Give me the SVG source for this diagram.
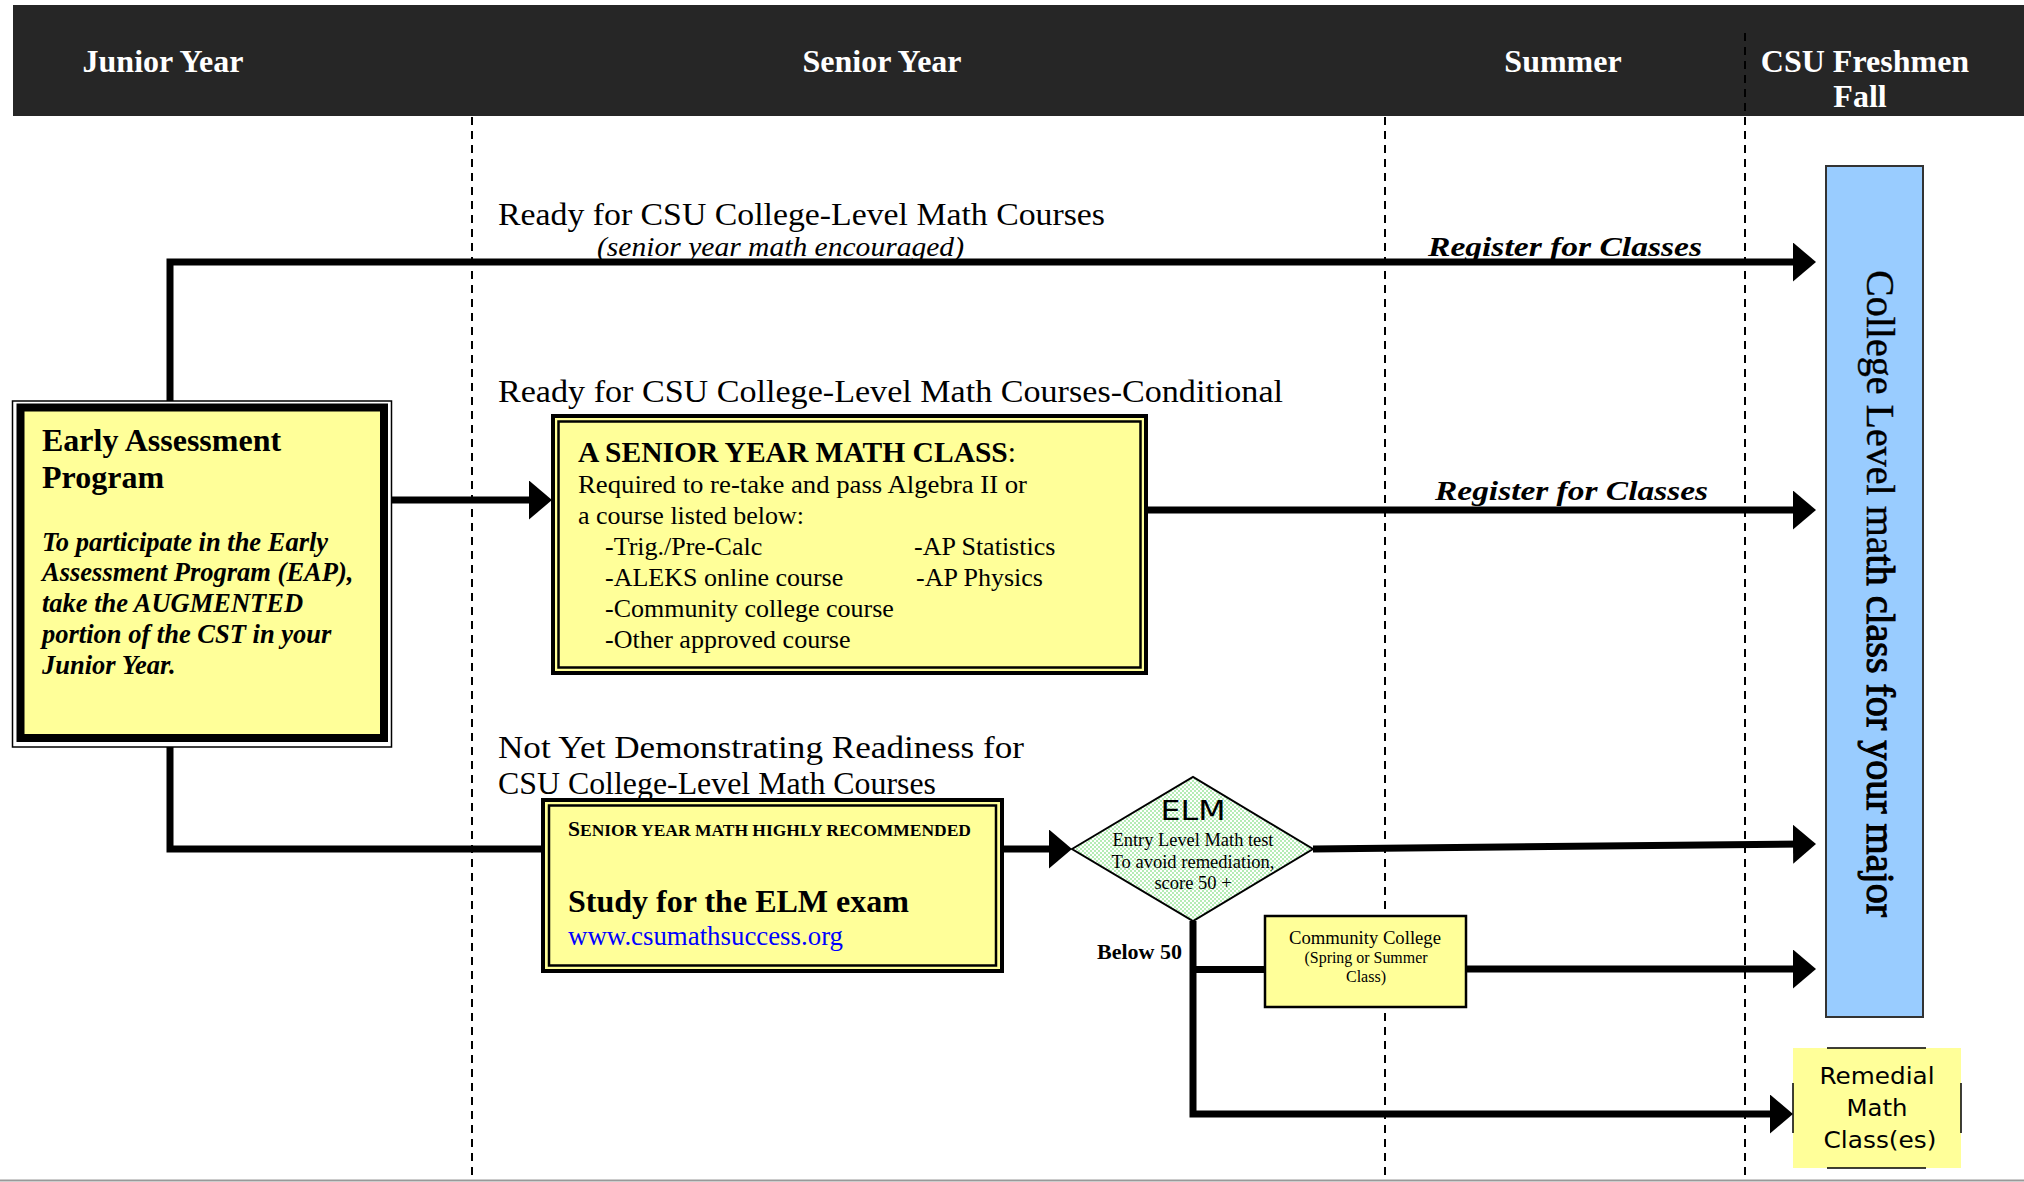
<svg xmlns="http://www.w3.org/2000/svg" width="2024" height="1182" viewBox="0 0 2024 1182">
<defs>
<style>
.hdr{font-family:"Liberation Serif",serif;font-weight:bold;font-size:32px;fill:#fff;text-anchor:middle}
.big{font-family:"Liberation Serif",serif;font-size:32px;fill:#000}
.ser{font-family:"Liberation Serif",serif;fill:#000}
.sans{font-family:"DejaVu Sans","Liberation Sans",sans-serif;fill:#000}
.conn{fill:none;stroke:#000;stroke-width:7;stroke-linejoin:miter}
.dash{stroke:#000;stroke-width:2;stroke-dasharray:8 6;fill:none}
.yel{fill:#ffff99}
.reg{font-family:"Liberation Serif",serif;font-weight:bold;font-style:italic;font-size:28px;fill:#000}
</style>
<marker id="ah" markerUnits="userSpaceOnUse" markerWidth="24" markerHeight="40" refX="13" refY="19.5" orient="auto">
<path d="M0,0 L23,19.5 L0,39 Z" fill="#000"/>
</marker>
<pattern id="chk" width="4" height="4" patternUnits="userSpaceOnUse">
<rect width="4" height="4" fill="#ffffff"/>
<rect width="2" height="2" fill="#b5ecb5"/>
<rect x="2" y="2" width="2" height="2" fill="#b5ecb5"/>
</pattern>
</defs>
<rect width="2024" height="1182" fill="#fff"/>
<g id="header">
<rect x="13" y="5" width="2011" height="111" fill="#262626"/>
<text class="hdr" x="163" y="72">Junior Year</text>
<text class="hdr" x="882" y="72">Senior Year</text>
<text class="hdr" x="1563" y="72">Summer</text>
<text class="hdr" x="1865" y="72">CSU Freshmen</text>
<text class="hdr" x="1860" y="107">Fall</text>
</g>
<g id="dividers">
<line class="dash" x1="472" y1="117" x2="472" y2="1180"/>
<line class="dash" x1="1385" y1="117" x2="1385" y2="1180"/>
<line class="dash" x1="1745" y1="33" x2="1745" y2="1180"/>
<line x1="0" y1="1180.5" x2="2024" y2="1180.5" stroke="#999" stroke-width="2"/>
</g>
<g id="labels">
<text class="big" x="498" y="225" textLength="607" lengthAdjust="spacingAndGlyphs">Ready for CSU College-Level Math Courses</text>
<text class="ser" x="597" y="256" font-size="27" font-style="italic" textLength="367" lengthAdjust="spacingAndGlyphs">(senior year math encouraged)</text>
<text class="big" x="498" y="402" textLength="785" lengthAdjust="spacingAndGlyphs">Ready for CSU College-Level Math Courses-Conditional</text>
<text class="big" x="498" y="758" textLength="526" lengthAdjust="spacingAndGlyphs">Not Yet Demonstrating Readiness for</text>
<text class="big" x="498" y="794" textLength="438" lengthAdjust="spacingAndGlyphs">CSU College-Level Math Courses</text>
<text class="reg" x="1428" y="256" textLength="274" lengthAdjust="spacingAndGlyphs">Register for Classes</text>
<text class="reg" x="1435" y="500" textLength="273" lengthAdjust="spacingAndGlyphs">Register for Classes</text>
<text class="ser" x="1097" y="959" font-size="22" font-weight="bold" textLength="85" lengthAdjust="spacingAndGlyphs">Below 50</text>
</g>
<g id="connectors">
<path class="conn" d="M170,401 V262 H1806" marker-end="url(#ah)"/>
<path class="conn" d="M391,500 H542" marker-end="url(#ah)"/>
<path class="conn" d="M1148,510 H1806" marker-end="url(#ah)"/>
<path class="conn" d="M170,747 V849 H541"/>
<path class="conn" d="M1004,849 H1062" marker-end="url(#ah)"/>
<path class="conn" d="M1313,849 L1806,844" marker-end="url(#ah)"/>
<path class="conn" d="M1193,921 V1114 H1783" marker-end="url(#ah)"/>
<path class="conn" d="M1193,969.5 H1265"/>
<path class="conn" d="M1467,969 H1806" marker-end="url(#ah)"/>
</g>
<g id="eap">
<rect x="12.5" y="401" width="379" height="346" fill="#fff" stroke="#000" stroke-width="1.5"/>
<rect class="yel" x="20.5" y="407.5" width="363.5" height="330.5" stroke="#000" stroke-width="8"/>
<text class="ser" x="42" y="451" font-size="32" font-weight="bold">Early Assessment</text>
<text class="ser" x="42" y="488" font-size="32" font-weight="bold">Program</text>
<g font-family="Liberation Serif, serif" font-weight="bold" font-style="italic" font-size="26.5">
<text x="42" y="551">To participate in the Early</text>
<text x="42" y="581">Assessment Program (EAP),</text>
<text x="42" y="612">take the AUGMENTED</text>
<text x="42" y="643">portion of the CST in your</text>
<text x="42" y="674">Junior Year.</text>
</g>
</g>
<g id="conditional">
<rect class="yel" x="553" y="416" width="593" height="257" stroke="#000" stroke-width="4"/>
<rect x="558.5" y="421.5" width="582" height="246" fill="none" stroke="#000" stroke-width="2.5"/>
<text class="ser" x="578" y="462" font-size="29" textLength="438" lengthAdjust="spacingAndGlyphs"><tspan font-weight="bold">A SENIOR YEAR MATH CLASS</tspan>:</text>
<g font-family="Liberation Serif, serif" font-size="26">
<text x="578" y="493" textLength="449" lengthAdjust="spacingAndGlyphs">Required to re-take and pass Algebra II or</text>
<text x="578" y="524">a course listed below:</text>
<text x="605" y="555">-Trig./Pre-Calc</text>
<text x="914" y="555">-AP Statistics</text>
<text x="605" y="586">-ALEKS online course</text>
<text x="916" y="586">-AP Physics</text>
<text x="605" y="617">-Community college course</text>
<text x="605" y="648">-Other approved course</text>
</g>
</g>
<g id="senior-box">
<rect class="yel" x="543" y="800" width="459" height="171" stroke="#000" stroke-width="4"/>
<rect x="549" y="805.5" width="447" height="160" fill="none" stroke="#000" stroke-width="2.5"/>
<text class="ser" x="568" y="836" font-weight="bold" textLength="403" lengthAdjust="spacingAndGlyphs"><tspan font-size="21">S</tspan><tspan font-size="17">ENIOR YEAR MATH HIGHLY RECOMMENDED</tspan></text>
<text class="ser" x="568" y="912" font-size="32" font-weight="bold" textLength="341" lengthAdjust="spacingAndGlyphs">Study for the ELM exam</text>
<text x="568" y="945" font-family="Liberation Serif, serif" font-size="26.5" fill="#0000ff" textLength="275" lengthAdjust="spacingAndGlyphs">www.csumathsuccess.org</text>
</g>
<g id="elm">
<polygon points="1072,849 1193,777 1313,849 1193,921" fill="url(#chk)" stroke="#000" stroke-width="2"/>
<text class="sans" x="1193" y="820" font-size="27" text-anchor="middle" textLength="65" lengthAdjust="spacingAndGlyphs">ELM</text>
<g font-family="Liberation Serif, serif" font-size="18.5" text-anchor="middle">
<text x="1193" y="846" textLength="161" lengthAdjust="spacingAndGlyphs">Entry Level Math test</text>
<text x="1193" y="868" textLength="163" lengthAdjust="spacingAndGlyphs">To avoid remediation,</text>
<text x="1193" y="889">score 50 +</text>
</g>
</g>
<g id="community-college">
<rect class="yel" x="1265" y="916" width="201" height="91" stroke="#000" stroke-width="2.5"/>
<text class="ser" x="1365" y="944" font-size="18.5" text-anchor="middle" textLength="152" lengthAdjust="spacingAndGlyphs">Community College</text>
<text class="ser" x="1366" y="963" font-size="16" text-anchor="middle" textLength="123" lengthAdjust="spacingAndGlyphs">(Spring or Summer</text>
<text class="ser" x="1366" y="982" font-size="16" text-anchor="middle">Class)</text>
</g>
<g id="college-level">
<rect x="1826" y="166" width="97" height="851" fill="#99ccff" stroke="#333" stroke-width="2"/>
<text class="ser" transform="translate(1867,270) rotate(90)" font-size="40" stroke="#000" stroke-width="0.4" textLength="647" lengthAdjust="spacingAndGlyphs">College Level ma<tspan stroke-width="1.1">th class for your major</tspan></text>
</g>
<g id="remedial">
<rect class="yel" x="1793" y="1048" width="168" height="120"/>
<path d="M1827,1048 H1926 M1827,1168 H1926 M1793,1083 V1133 M1961,1083 V1133" stroke="#000" stroke-width="1.5" fill="none"/>
<g class="sans" font-size="23" text-anchor="middle">
<text x="1877" y="1084" textLength="115" lengthAdjust="spacingAndGlyphs">Remedial</text>
<text x="1877" y="1116" textLength="61" lengthAdjust="spacingAndGlyphs">Math</text>
<text x="1880" y="1148" textLength="113" lengthAdjust="spacingAndGlyphs">Class(es)</text>
</g>
</g>
</svg>
